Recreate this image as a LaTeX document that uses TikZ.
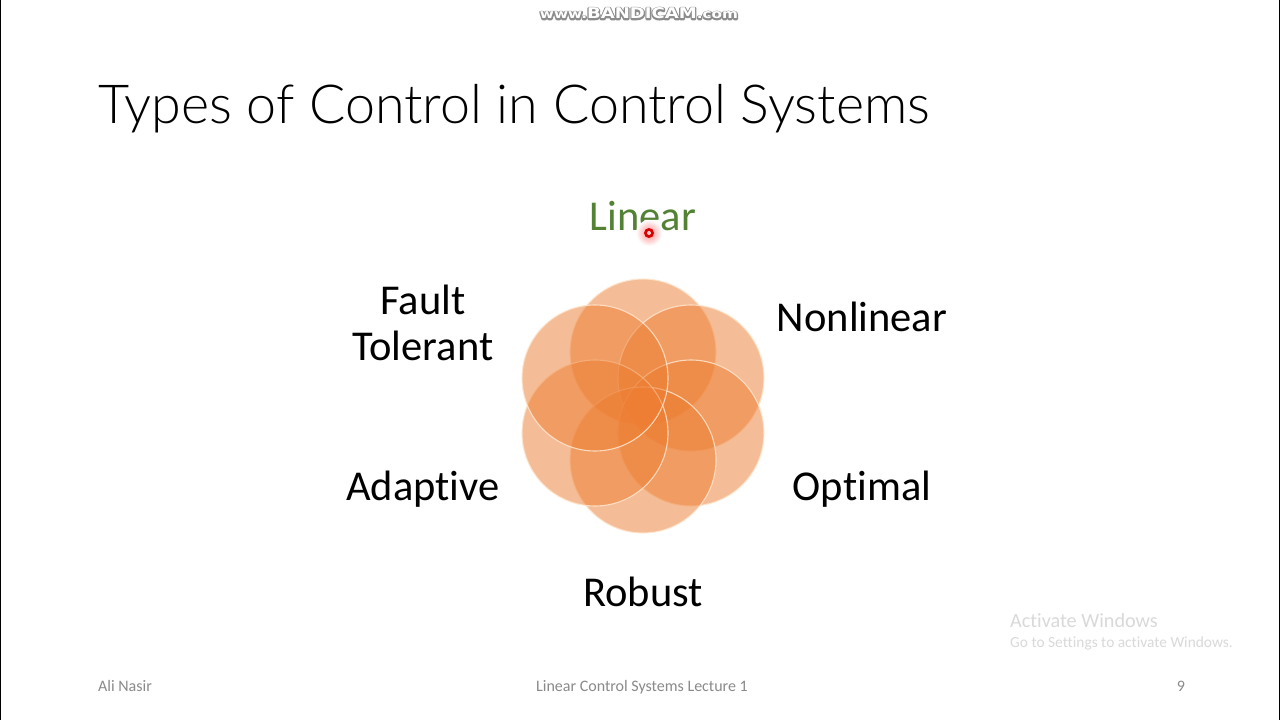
\documentclass[tikz,border=0pt]{standalone}
\usepackage{fontspec}
\setmainfont[Ligatures=NoCommon]{Carlito}
\newfontfamily\titlefont{Lato Light}
\newfontfamily\markfont[FakeStretch=1.22]{DejaVu Sans Bold}
\newcommand{\marktext}{\markfont\fontsize{12.5}{15}\selectfont www.\fontsize{14.8}{15}\selectfont BANDICAM\fontsize{12.5}{15}\selectfont .com}
\definecolor{petal}{HTML}{ED7D31}
\definecolor{rim}{HTML}{FFE6CE}
\definecolor{lineargreen}{HTML}{548235}
\definecolor{footgrey}{HTML}{8A8A8A}
\definecolor{wmgrey}{HTML}{D9D9D9}
\tikzset{
  petalc/.style={circle,inner sep=0pt,minimum size=146pt,fill=petal,fill opacity=.5,draw=rim,draw opacity=.85,line width=1.1pt},
  label/.style={text=black,font=\fontsize{42.5}{46}\selectfont,align=center,inner sep=0pt},
  footer/.style={text=footgrey,font=\fontsize{16}{18}\selectfont,inner sep=0pt},
}
\begin{document}
\begin{tikzpicture}[x=1pt,y=-1pt]
\useasboundingbox (0,0) rectangle (1280,720);
\fill[white] (0,0) rectangle (1280,720);
\fill[black] (0,0) rectangle (1.2,720);
\fill[black] (1278.8,0) rectangle (1280,720);
% title
\node[anchor=base west,inner sep=0pt,font=\titlefont\fontsize{53.8}{60}\selectfont,text=black] (title) at (98,123.5) {Types of Control in Control Systems};
% petals
\node[petalc] (c1) at (643,352) {};
\node[petalc] (c2) at (691,378) {};
\node[petalc] (c3) at (691,433) {};
\node[petalc] (c4) at (643,460) {};
\node[petalc] (c5) at (595,433) {};
\node[petalc] (c6) at (595,378) {};
% labels
\node[label,text=lineargreen,anchor=base] (linear) at (643,230) {Linear};
\node[label,anchor=base] (nonlinear) at (862,331) {Nonlinear};
\node[label,anchor=base] (optimal) at (862,500) {Optimal};
\node[label,anchor=base] (robust) at (643,606) {Robust};
\node[label,anchor=base] (adaptive) at (423,500) {Adaptive};
\node[label] (fault) at (423,323) {Fault\\Tolerant};
% cursor
\shade[inner color=red!45,outer color=white] (649,233) circle (13);
\fill[red!85!black] (649,233) circle (5);
\fill[white!80!red] (649,233) circle (2);
% footer
\node[footer,anchor=base west] (author) at (98,691) {Ali Nasir};
\node[footer,anchor=base] (course) at (642,691) {Linear Control Systems Lecture 1};
\node[footer,anchor=base] (page) at (1181,691) {9};
% watermark
\node[anchor=base west,inner sep=0pt,text=wmgrey,font=\fontsize{20.2}{22}\selectfont] (act) at (1010,627) {Activate Windows};
\node[anchor=base west,inner sep=0pt,text=wmgrey,font=\fontsize{15.4}{17}\selectfont] (go) at (1010,647) {Go to Settings to activate Windows.};
% recorder mark: grey outline under white letters
\node[inner sep=0pt,anchor=base,text=white] (bandi) at (639,19) {\rlap{\special{pdf:code q 1 Tr 2.6 w 1 j 0.55 0.55 0.55 RG}\marktext\special{pdf:code Q}}\marktext};
\end{tikzpicture}
\end{document}
